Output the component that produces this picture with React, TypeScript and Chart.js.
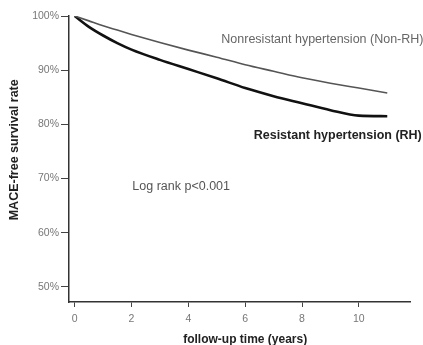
import React, { useEffect, useRef } from "react";
import { Chart, registerables } from "chart.js";

Chart.register(...registerables);

const years = [0, 0.5, 1, 1.5, 2, 3, 4, 5, 6, 7, 8, 9, 10, 11];
const rhSurvival = [100, 98.0, 96.4, 95.0, 93.8, 91.9, 90.2, 88.5, 86.7, 85.2, 83.9, 82.6, 81.6, 81.5];
const nonRhSurvival = [100, 99.1, 98.2, 97.4, 96.6, 95.1, 93.7, 92.4, 91.0, 89.8, 88.6, 87.6, 86.7, 85.8];
const xTicks = [0, 2, 4, 6, 8, 10];
const yTicks = [50, 60, 70, 80, 90, 100];

const xTitle = "follow-up time (years)";
const yTitle = "MACE-free survival rate";

const FONT = "'Liberation Sans', Arial, Helvetica, sans-serif";

const annotationPlugin = {
  id: "annotations",
  afterDraw(chart: any) {
    const { ctx, scales } = chart;
    const x = scales.x;
    const y = scales.y;
    ctx.save();
    ctx.textBaseline = "middle";
    ctx.textAlign = "left";
    ctx.fillStyle = "#666";
    ctx.font = `12.5px ${FONT}`;
    ctx.fillText("Nonresistant hypertension (Non-RH)", x.getPixelForValue(5.16), y.getPixelForValue(95.6));
    ctx.fillStyle = "#222";
    ctx.font = `bold 12.5px ${FONT}`;
    ctx.fillText("Resistant hypertension (RH)", x.getPixelForValue(6.3), y.getPixelForValue(78.0));
    ctx.fillStyle = "#555";
    ctx.font = `12.5px ${FONT}`;
    ctx.fillText("Log rank p<0.001", x.getPixelForValue(2.03), y.getPixelForValue(68.5));

    // axis titles
    ctx.fillStyle = "#222";
    ctx.font = `bold 12px ${FONT}`;
    ctx.textAlign = "center";
    ctx.fillText(xTitle, x.getPixelForValue(6.0), 340);
    ctx.save();
    ctx.translate(15, y.getPixelForValue(75.3));
    ctx.rotate(-Math.PI / 2);
    ctx.font = `bold 12.5px ${FONT}`;
    ctx.fillText(yTitle, 0, 0);
    ctx.restore();
    ctx.restore();
  },
};

export default function App() {
  const ref = useRef<HTMLCanvasElement>(null);
  useEffect(() => {
    if (!ref.current) return;
    const chart = new Chart(ref.current, {
      type: "line",
      data: {
        datasets: [
          {
            label: "Nonresistant hypertension (Non-RH)",
            data: years.map((t, i) => ({ x: t, y: nonRhSurvival[i] })),
            borderColor: "#555",
            borderWidth: 1.6,
            pointRadius: 0,
            cubicInterpolationMode: "monotone",
            fill: false,
          },
          {
            label: "Resistant hypertension (RH)",
            data: years.map((t, i) => ({ x: t, y: rhSurvival[i] })),
            borderColor: "#111",
            borderWidth: 2.6,
            pointRadius: 0,
            cubicInterpolationMode: "monotone",
            fill: false,
          },
        ],
      },
      options: {
        animation: false,
        responsive: false,
        maintainAspectRatio: false,
        layout: { padding: { top: 16, right: 13, left: 0, bottom: 0 } },
        plugins: { legend: { display: false }, tooltip: { enabled: false } },
        scales: {
          x: {
            type: "linear",
            min: -0.2,
            max: 11.8,
            afterBuildTicks: (s: any) => {
              s.ticks = xTicks.map((v) => ({ value: v }));
            },
            afterFit: (s: any) => {
              s.height = 43;
            },
            grid: { drawOnChartArea: false, drawTicks: true, tickLength: 5, color: "#444" },
            border: { display: true, color: "#333", width: 1.5 },
            ticks: { color: "#777", font: { family: FONT, size: 10.5 }, padding: 6, maxRotation: 0 },
            title: { display: false },
          },
          y: {
            type: "linear",
            min: 47.2,
            max: 100,
            afterBuildTicks: (s: any) => {
              s.ticks = yTicks.map((v) => ({ value: v }));
            },
            afterFit: (s: any) => {
              s.width = 69;
            },
            grid: { drawOnChartArea: false, drawTicks: true, tickLength: 8, color: "#444" },
            border: { display: true, color: "#333", width: 1.5 },
            ticks: {
              color: "#777",
              font: { family: FONT, size: 10.5 },
              padding: 2,
              callback: (v: any) => `${v}%`,
            },
            title: { display: false },
          },
        },
      },
      plugins: [annotationPlugin],
    } as any);
    return () => chart.destroy();
  }, []);
  return (
    <div style={{ position: "fixed", left: 0, top: 0, width: 423, height: 345, background: "#fff" }}>
      <canvas ref={ref} width={423} height={345} style={{ width: 423, height: 345 }} />
    </div>
  );
}
